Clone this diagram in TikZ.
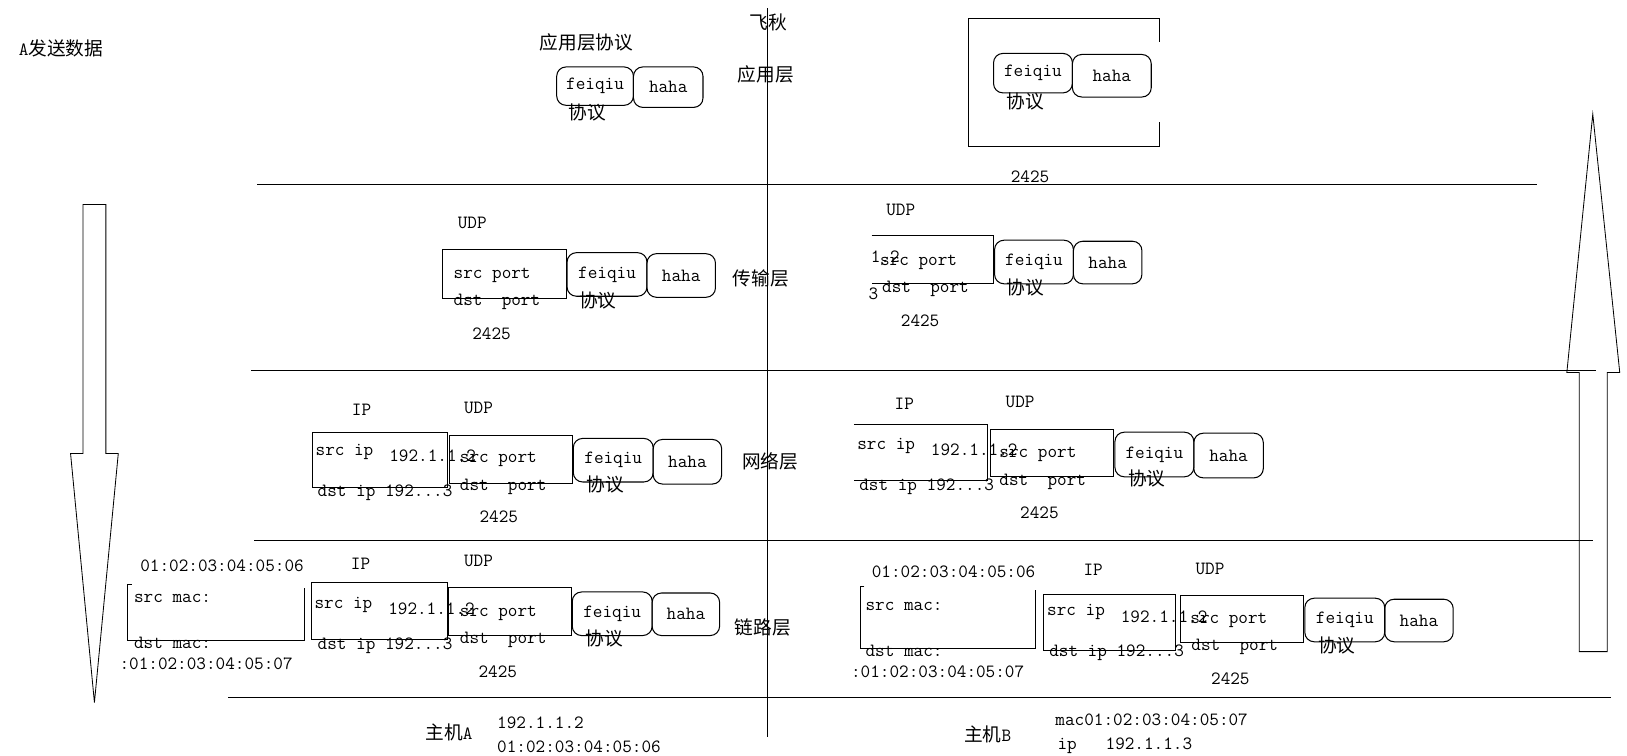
\documentclass[tikz,border=0pt]{standalone}
\usepackage{fontspec}
\newfontfamily\cjk{Noto Sans CJK SC}
\newcommand{\zh}[1]{{\cjk\fontsize{18}{20}\selectfont #1}}

\begin{document}
\begin{tikzpicture}[x=1pt, y=-1pt, font=\ttfamily\fontsize{18}{20}\selectfont]

                \tikzset{lbl/.style = {anchor=west, inner sep=0pt}}
                \tikzset{han/.style = {anchor=west, inner sep=0pt, font=\cjk\fontsize{18}{20}\selectfont}}
                \tikzset{pkt/.style = {shape=rectangle, draw, line width=1pt, rounded corners=9pt, anchor=north west, inner sep=0pt, minimum width=77pt, minimum height=42pt}}
                \tikzset{hbox/.style = {shape=rectangle, draw, line width=1pt, anchor=north west, inner sep=0pt}}
                \tikzset{hdr/.style = {draw, line width=1pt}}
                \tikzset{layer/.style = {draw, line width=1.2pt}}
                \tikzset{bigarrow/.style = {draw, line width=0.8pt}}

                \path[use as bounding box, fill=white] (0,0) rectangle (1568,728);

                % layers
                \draw[layer] (740,8) -- (740,710);
                \draw[layer] (248,178) -- (1481,178);
                \draw[layer] (242,357) -- (1538,357);
                \draw[layer] (245,521) -- (1535,521);
                \draw[layer] (220,672) -- (1553,672);

                % big arrows
                \draw[bigarrow] (80,197) -- (102,197) -- (102,437) -- (114,437) -- (91,677) -- (68,437) -- (80,437) -- cycle;
                \draw[bigarrow] (1522,628) -- (1549,628) -- (1549,359) -- (1561,359) -- (1535,110) -- (1510,359) -- (1522,359) -- cycle;

                % application layer
                \node[lbl] (sendA) at (18,47) {A\zh{发送数据}};
                \node[han] (feiqiu) at (722,22) {飞秋};
                \node[han] (appproto) at (520,41) {应用层协议};
                \node[han] (applayer) at (711,72) {应用层};
                \node[pkt, minimum width=74pt, minimum height=37pt] (afqL) at (536,64) {feiqiu};
                \node[pkt, minimum width=67pt, minimum height=39pt] (ahhL) at (610,64) {haha};
                \node[han] (axyL) at (548,108) {协议};

                \draw[hdr] (1117,40) -- (1117,18) -- (933,18) -- (933,141) -- (1117,141) -- (1117,118);
                \node[pkt, minimum width=76pt, minimum height=38pt] (afqR) at (957,51) {feiqiu};
                \node[pkt, minimum width=76pt, minimum height=41pt] (ahhR) at (1033,52) {haha\hspace{16pt}};
                \node[han] (axyR) at (970,98) {协议};
                \node[lbl] (aportR) at (974,170) {2425};

                % transport layer
                \node[lbl] (tudpL) at (441,215) {UDP};
                \node[hbox, minimum width=119pt, minimum height=47pt] (tboxL) at (426,240) {};
                \node[lbl] (tsrcL) at (437,265) {src port};
                \node[lbl] (tdstL) at (437,291) {dst~~port};
                \node[lbl] (tportL) at (455,322) {2425};
                \node[pkt] (tfqL) at (546,243) {feiqiu};
                \node[pkt, minimum width=66pt] (thhL) at (623,244) {haha};
                \node[han] (txyL) at (558,290) {协议};
                \node[han] (tlayer) at (706,268) {传输层};

                \node[lbl] (tudpR) at (854,202) {UDP};
                \draw[hdr] (840,227) -- (957,227) -- (957,273) -- (840,273);
                \node[lbl] (tipR) at (839,247) {1.2};
                \node[lbl] (tdipR) at (837,283) {3};
                \node[lbl] (tsrcR) at (848,253) {src port};
                \node[lbl] (tdstR) at (850,278) {dst~~port};
                \node[lbl] (tportR) at (868,309) {2425};
                \node[pkt, minimum width=76pt] (tfqR) at (958,231) {feiqiu};
                \node[pkt, minimum width=66pt, minimum height=41pt] (thhR) at (1034,232) {haha};
                \node[han] (txyR) at (970,277) {协议};

                % network layer
                \node[lbl] (nipL) at (339,395) {IP};
                \node[lbl] (nudpL) at (447,393) {UDP};
                \node[hbox, minimum width=130pt, minimum height=53pt] (nipboxL) at (301,416) {};
                \node[hbox, minimum width=118pt, minimum height=46pt] (nudpboxL) at (433,419) {};
                \node[lbl] (nsipL) at (304,436) {src ip};
                \node[lbl] (nsaddrL) at (375,439) {192.1.1.2};
                \node[lbl] (ndipL) at (306,475) {dst ip 192...3};
                \node[lbl] (nsrcL) at (443,443) {src port};
                \node[lbl] (ndstL) at (443,469) {dst~~port};
                \node[lbl] (nportL) at (462,498) {2425};
                \node[pkt] (nfqL) at (552,422) {feiqiu};
                \node[pkt, minimum width=66pt, minimum height=43pt] (nhhL) at (629,423) {haha};
                \node[han] (nxyL) at (565,467) {协议};
                \node[han] (nlayer) at (715,445) {网络层};

                \node[lbl] (nipR) at (862,389) {IP};
                \node[lbl] (nudpR) at (969,387) {UDP};
                \draw[hdr] (823,409) -- (952,409) -- (952,463) -- (823,463);
                \node[hbox, minimum width=119pt, minimum height=46pt] (nudpboxR) at (954,413) {};
                \node[lbl] (nsipR) at (826,430) {src ip};
                \node[lbl] (nsaddrR) at (897,433) {192.1.1.2};
                \node[lbl] (ndipR) at (828,469) {dst ip 192...3};
                \node[lbl] (nsrcR) at (963,438) {src port};
                \node[lbl] (ndstR) at (963,464) {dst~~port};
                \node[lbl] (nportR) at (983,494) {2425};
                \node[pkt, minimum width=76pt, minimum height=43pt] (nfqR) at (1074,416) {feiqiu};
                \node[pkt, minimum width=67pt, minimum height=43pt] (nhhR) at (1150,417) {haha};
                \node[han] (nxyR) at (1087,461) {协议};

                % link layer
                \node[lbl] (lsmacL) at (135,545) {01:02:03:04:05:06};
                \node[lbl] (lipL) at (338,543) {IP};
                \node[lbl] (ludpL) at (447,541) {UDP};
                \draw[hdr] (127,563) -- (123,563) -- (123,617) -- (293,617) -- (293,567);
                \node[lbl] (lsrcmacL) at (129,577) {src mac:};
                \node[lbl] (ldstmacL) at (129,620) {dst mac:};
                \node[lbl] (ldmacL) at (115,640) {:01:02:03:04:05:07};
                \node[hbox, minimum width=131pt, minimum height=55pt] (lipboxL) at (300,561) {};
                \node[hbox, minimum width=118pt, minimum height=46pt] (ludpboxL) at (432,566) {};
                \node[lbl] (lsipL) at (303,583) {src ip};
                \node[lbl] (lsaddrL) at (374,587) {192.1.1.2};
                \node[lbl] (ldipL) at (306,622) {dst ip 192...3};
                \node[lbl] (lsrcL) at (443,591) {src port};
                \node[lbl] (ldstL) at (443,617) {dst~~port};
                \node[lbl] (lportL) at (461,647) {2425};
                \node[pkt] (lfqL) at (551,570) {feiqiu};
                \node[pkt, minimum width=65pt, minimum height=41pt] (lhhL) at (628,571) {haha};
                \node[han] (lxyL) at (564,615) {协议};
                \node[han] (llayer) at (708,605) {链路层};

                \node[lbl] (lsmacR) at (840,551) {01:02:03:04:05:06};
                \node[lbl] (lipR) at (1044,549) {IP};
                \node[lbl] (ludpR) at (1152,548) {UDP};
                \draw[hdr] (833,565) -- (829,565) -- (829,625) -- (998,625) -- (998,569);
                \node[lbl] (lsrcmacR) at (834,584) {src mac:};
                \node[lbl] (ldstmacR) at (834,627) {dst mac:};
                \node[lbl] (ldmacR) at (820,647) {:01:02:03:04:05:07};
                \node[hbox, minimum width=127pt, minimum height=54pt] (lipboxR) at (1005,572) {};
                \node[hbox, minimum width=119pt, minimum height=46pt] (ludpboxR) at (1137,573) {};
                \node[lbl] (lsipR) at (1009,590) {src ip};
                \node[lbl] (lsaddrR) at (1080,594) {192.1.1.2};
                \node[lbl] (ldipR) at (1011,629) {dst ip 192...3};
                \node[lbl] (lsrcR) at (1147,598) {src port};
                \node[lbl] (ldstR) at (1148,623) {dst~~port};
                \node[lbl] (lportR) at (1167,654) {2425};
                \node[pkt] (lfqR) at (1257,576) {feiqiu};
                \node[pkt, minimum width=66pt, minimum height=41pt] (lhhR) at (1334,577) {haha};
                \node[han] (lxyR) at (1270,622) {协议};

                % hosts
                \node[lbl] (hostA) at (410,706) {\zh{主机}A};
                \node[lbl] (hostAip) at (479,697) {192.1.1.2};
                \node[lbl] (hostAmac) at (479,720) {01:02:03:04:05:06};
                \node[lbl] (hostB) at (929,708) {\zh{主机}B};
                \node[lbl] (hostBmac) at (1017,694) {mac01:02:03:04:05:07};
                \node[lbl] (hostBip) at (1019,719) {ip~~~192.1.1.3};
            \end{tikzpicture}
\end{document}
